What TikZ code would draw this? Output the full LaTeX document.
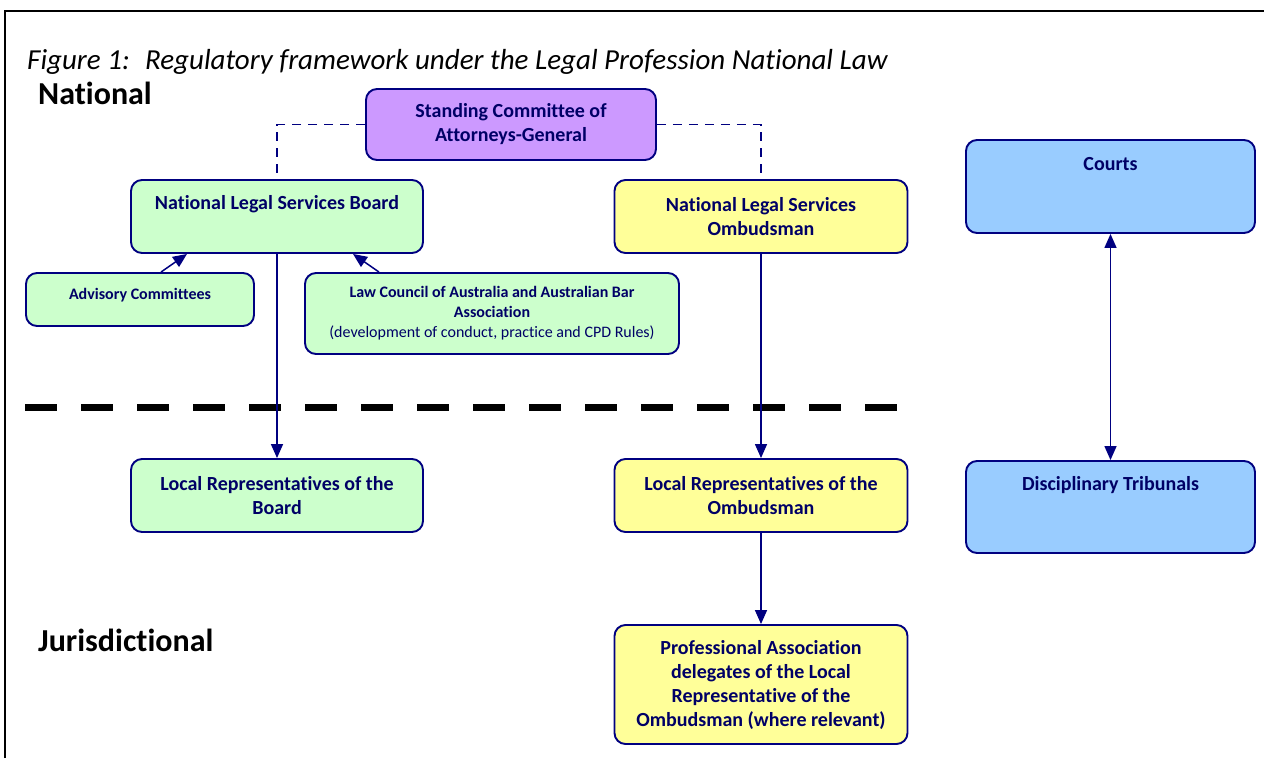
\documentclass[tikz,border=0pt]{standalone}
\usepackage{fontspec}
\setmainfont{Carlito}[Ligatures=NoCommon]
\usetikzlibrary{arrows.meta,positioning}
\definecolor{navy}{RGB}{0,0,128}
\definecolor{ink}{RGB}{0,0,102}
\definecolor{boardgreen}{RGB}{204,255,204}
\definecolor{ombyellow}{RGB}{255,255,153}
\definecolor{scagpurple}{RGB}{204,153,255}
\definecolor{courtblue}{RGB}{153,204,255}
\tikzset{
  box/.style={draw=navy, line width=1.9pt, rounded corners=11pt, inner sep=0pt,
    text=ink, align=center, font=\bfseries\fontsize{20}{24}\selectfont},
  smallbox/.style={box, font=\fontsize{16}{20}\selectfont},
  boxtext/.style={text=ink, inner sep=0pt, anchor=base, font=\bfseries\fontsize{20}{24}\selectfont},
  smalltext/.style={boxtext, font=\bfseries\fontsize{16}{20}\selectfont},
  heading/.style={anchor=base west, inner sep=0pt, font=\bfseries\fontsize{32}{38}\selectfont},
  link/.style={draw=navy, line width=1.5pt, -{Triangle[length=14pt,width=12pt]}},
  twoway/.style={draw=navy, line width=1.5pt, {Triangle[length=14pt,width=12pt]}-{Triangle[length=14pt,width=12pt]}},
  tie/.style={draw=navy, line width=1.5pt, dash pattern=on 9pt off 7pt},
}
\begin{document}
\begin{tikzpicture}[x=1pt, y=-1pt]
  \useasboundingbox (0,0) rectangle (1264,758);
  \draw[line width=2pt] (5,758) -- (5,11) -- (1264,11);

  \node[anchor=base west, inner sep=0pt, font=\itshape\fontsize{29}{34}\selectfont] (title) at (27,69)
    {Figure 1:~ Regulatory framework under the Legal Profession National Law};
  \node[heading] (national) at (38,104) {National};
  \node[heading] (juris) at (38,651) {Jurisdictional};

  % national level
  \node[box, fill=scagpurple, minimum width=290pt, minimum height=71pt] (scag) at (511,124.5)
    {Standing Committee of\\Attorneys-General};
  \node[box, fill=boardgreen, minimum width=292pt, minimum height=73pt] (nlsb) at (277,216.5) {};
  \node[boxtext] (nlsb-t) at ([yshift=-30.5pt]nlsb.north) {National Legal Services Board};
  \node[box, fill=ombyellow, minimum width=293pt, minimum height=73pt] (nlso) at (761,216.5)
    {National Legal Services\\Ombudsman};
  \node[box, fill=courtblue, minimum width=289pt, minimum height=93pt] (courts) at (1110.5,186.5) {};
  \node[boxtext] (courts-t) at ([yshift=-31.5pt]courts.north) {Courts};

  \node[smallbox, fill=boardgreen, minimum width=228pt, minimum height=53pt] (adv) at (140,299.5) {};
  \node[smalltext] (adv-t) at ([yshift=-27pt]adv.north) {Advisory Committees};
  \node[smallbox, fill=boardgreen, minimum width=374pt, minimum height=81pt] (lca) at (492,313.5)
    {\bfseries Law Council of Australia and Australian Bar\\\bfseries Association\\(development of conduct, practice and CPD Rules)};

  % divider
  \draw[line width=7pt, dash pattern=on 32pt off 24pt] (25,407) -- (897,407);

  % jurisdictional level
  \node[box, fill=boardgreen, minimum width=292pt, minimum height=73pt] (lrb) at (277,495.5)
    {Local Representatives of the\\Board};
  \node[box, fill=ombyellow, minimum width=293pt, minimum height=73pt] (lro) at (761,495.5)
    {Local Representatives of the\\Ombudsman};
  \node[box, fill=ombyellow, minimum width=293pt, minimum height=119pt] (pad) at (761,684.5)
    {Professional Association\\delegates of the Local\\Representative of the\\Ombudsman (where relevant)};
  \node[box, fill=courtblue, minimum width=289pt, minimum height=92pt] (dt) at (1110.5,507) {};
  \node[boxtext] (dt-t) at ([yshift=-30.5pt]dt.north) {Disciplinary Tribunals};

  % connectors
  \draw[tie] (scag.west) -| (nlsb.north);
  \draw[tie] (scag.east) -| (nlso.north);
  \draw[link] ([xshift=21pt]adv.north) -- ([xshift=-90pt]nlsb.south);
  \draw[link] ([xshift=-113pt]lca.north) -- ([xshift=76pt]nlsb.south);
  \draw[link] (nlsb.south) -- (lrb.north);
  \draw[link] (nlso.south) -- (lro.north);
  \draw[link] (lro.south) -- (pad.north);
  \draw[twoway] (courts.south) -- (dt.north);
\end{tikzpicture}
\end{document}
